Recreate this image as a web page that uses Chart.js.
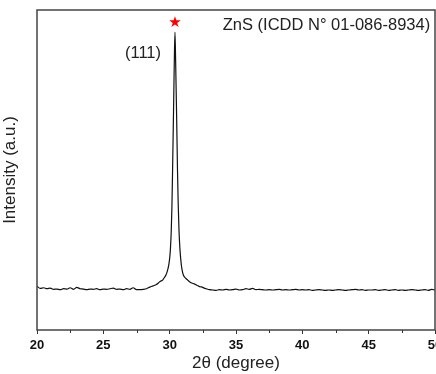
<!DOCTYPE html>
<html>
<head>
<meta charset="utf-8">
<script src="https://cdn.jsdelivr.net/npm/chart.js@4"></script>
<style>
  html, body { margin: 0; padding: 0; background: #fff; overflow: hidden; }
  #wrap { width: 436px; height: 374px; }
</style>
</head>
<body>
<div id="wrap"><canvas id="xrd" width="436" height="374"></canvas></div>
<script>
// XRD pattern, ZnS
const twoTheta = [
  20.00, 20.25, 20.50, 20.75, 21.00, 21.25, 21.50, 21.75, 22.00, 22.25,
  22.50, 22.75, 23.00, 23.25, 23.50, 23.75, 24.00, 24.25, 24.50, 24.75,
  25.00, 25.25, 25.50, 25.75, 26.00, 26.25, 26.50, 26.75, 27.00, 27.25,
  27.50, 27.75, 28.00, 28.25, 28.50, 28.75, 29.00, 29.15, 29.30, 29.47,
  29.60, 29.72, 29.83, 29.93, 30.00, 30.06, 30.12, 30.17, 30.22, 30.29,
  30.35, 30.40, 30.45, 30.52, 30.59, 30.64, 30.70, 30.77, 30.88, 30.95,
  31.03, 31.20, 31.36, 31.50, 31.66, 31.85, 32.00, 32.15, 32.29, 32.45,
  32.60, 32.75, 33.00, 33.25, 33.50, 33.75, 34.00, 34.25, 34.50, 34.75,
  35.00, 35.25, 35.50, 35.75, 36.00, 36.25, 36.50, 36.75, 37.00, 37.25,
  37.50, 37.75, 38.00, 38.25, 38.50, 38.75, 39.00, 39.25, 39.50, 39.75,
  40.00, 40.25, 40.50, 40.75, 41.00, 41.25, 41.50, 41.75, 42.00, 42.25,
  42.50, 42.75, 43.00, 43.25, 43.50, 43.75, 44.00, 44.25, 44.50, 44.75,
  45.00, 45.25, 45.50, 45.75, 46.00, 46.25, 46.50, 46.75, 47.00, 47.25,
  47.50, 47.75, 48.00, 48.25, 48.50, 48.75, 49.00, 49.25, 49.50, 49.75,
  50.00
];
const intensity = [
  13.7, 13.0, 13.2, 12.9, 13.1, 12.7, 12.8, 12.6, 12.9, 12.8,
  13.2, 12.7, 13.3, 12.9, 12.8, 12.6, 12.8, 12.7, 12.9, 12.6,
  12.8, 12.7, 12.9, 13.1, 12.7, 12.8, 12.6, 12.9, 12.7, 13.2,
  12.6, 12.6, 12.7, 12.9, 13.4, 13.8, 14.2, 14.7, 15.2, 15.6,
  16.4, 17.2, 18.5, 20.3, 22.4, 25.5, 31.0, 38.5, 50.0, 68.0,
  84.0, 93.0, 84.0, 68.0, 50.0, 40.0, 31.5, 25.5, 20.3, 18.5,
  17.2, 16.2, 15.6, 15.1, 14.7, 14.4, 14.1, 13.8, 13.5, 13.4,
  13.1, 12.9, 12.6, 12.5, 12.4, 12.6, 12.5, 12.7, 12.5, 12.6,
  12.8, 12.5, 12.6, 12.9, 12.7, 13.0, 12.6, 12.7, 12.6, 12.5,
  12.6, 12.5, 12.6, 12.7, 12.5, 12.6, 12.5, 12.6, 12.7, 12.5,
  12.6, 12.5, 12.6, 12.4, 12.5, 12.6, 12.5, 12.4, 12.5, 12.4,
  12.5, 12.6, 12.5, 12.4, 12.5, 12.6, 12.7, 12.5, 12.6, 12.4,
  12.5, 12.5, 12.6, 12.4, 12.5, 12.6, 12.4, 12.5, 12.6, 12.4,
  12.5, 12.4, 12.5, 12.6, 12.5, 12.4, 12.5, 12.6, 12.4, 12.7,
  12.5
];
const xTicks = [20, 25, 30, 35, 40, 45, 50];
const xMinorTicks = [22.5, 27.5, 32.5, 37.5, 42.5, 47.5];

// annotations: [2theta, intensity]
const starPos = [30.4, 95.8];
const hklLabel = '(111)';
const hklPos = [29.35, 86.5];
const phaseLabel = 'ZnS (ICDD N\u00b0 01-086-8934)';
const phasePos = [34.0, 95.3];

const FONT = '"Liberation Sans", Arial, Helvetica, sans-serif';

const extras = {
  id: 'extras',
  afterDatasetsDraw(chart) {
    const {ctx, chartArea: a, scales: {x, y}} = chart;
    ctx.save();
    // frame
    ctx.strokeStyle = '#444';
    ctx.lineWidth = 1.5;
    ctx.strokeRect(a.left, a.top, a.right - a.left, a.bottom - a.top);
    // minor ticks
    ctx.lineWidth = 1;
    ctx.strokeStyle = '#333';
    ctx.beginPath();
    xMinorTicks.forEach(v => {
      const px = Math.round(x.getPixelForValue(v)) + 0.5;
      ctx.moveTo(px, a.bottom);
      ctx.lineTo(px, a.bottom + 3);
    });
    ctx.stroke();
    // star
    ctx.fillStyle = '#ff0000';
    ctx.font = '15px "DejaVu Sans", sans-serif';
    ctx.textAlign = 'center';
    ctx.textBaseline = 'middle';
    ctx.fillText('\u2605', x.getPixelForValue(starPos[0]), y.getPixelForValue(starPos[1]));
    // labels
    ctx.fillStyle = '#222';
    ctx.font = '16.5px ' + FONT;
    ctx.textAlign = 'right';
    ctx.fillText(hklLabel, x.getPixelForValue(hklPos[0]), y.getPixelForValue(hklPos[1]));
    ctx.textAlign = 'left';
    ctx.fillText(phaseLabel, x.getPixelForValue(phasePos[0]), y.getPixelForValue(phasePos[1]));
    ctx.restore();
  }
};

new Chart(document.getElementById('xrd'), {
  type: 'line',
  data: {
    datasets: [{
      data: twoTheta.map((t, i) => ({x: t, y: intensity[i]})),
      borderColor: '#111',
      borderWidth: 1.2,
      borderJoinStyle: 'round',
      cubicInterpolationMode: 'monotone', // also avoids the fast-path artefact on the narrow peak
      pointRadius: 0,
      fill: false
    }]
  },
  options: {
    responsive: false,
    animation: false,
    layout: { padding: { top: 10, right: 1, left: 0, bottom: 0 } },
    plugins: { legend: { display: false }, tooltip: { enabled: false } },
    scales: {
      x: {
        type: 'linear',
        min: 20,
        max: 50,
        afterBuildTicks: s => { s.ticks = xTicks.map(v => ({value: v})); },
        afterFit: s => { s.paddingLeft = 0; s.paddingRight = 0; s.height = 44; },
        grid: { drawOnChartArea: false, drawTicks: true, tickLength: 4, color: '#333' },
        border: { display: false },
        ticks: {
          color: '#111',
          padding: 4,
          maxRotation: 0,
          font: { family: FONT, size: 13, weight: 'bold' }
        },
        title: {
          display: true,
          text: '2\u03b8 (degree)',
          color: '#222',
          padding: { top: 0, bottom: 0 },
          font: { family: FONT, size: 17 }
        }
      },
      y: {
        min: 0,
        max: 100,
        afterFit: s => { s.width = 37; },
        grid: { display: false },
        border: { display: false },
        ticks: { display: false },
        title: {
          display: true,
          text: 'Intensity (a.u.)',
          color: '#222',
          padding: { top: 0, bottom: 0 },
          font: { family: FONT, size: 17 }
        }
      }
    }
  },
  plugins: [extras]
});
</script>
</body>
</html>
